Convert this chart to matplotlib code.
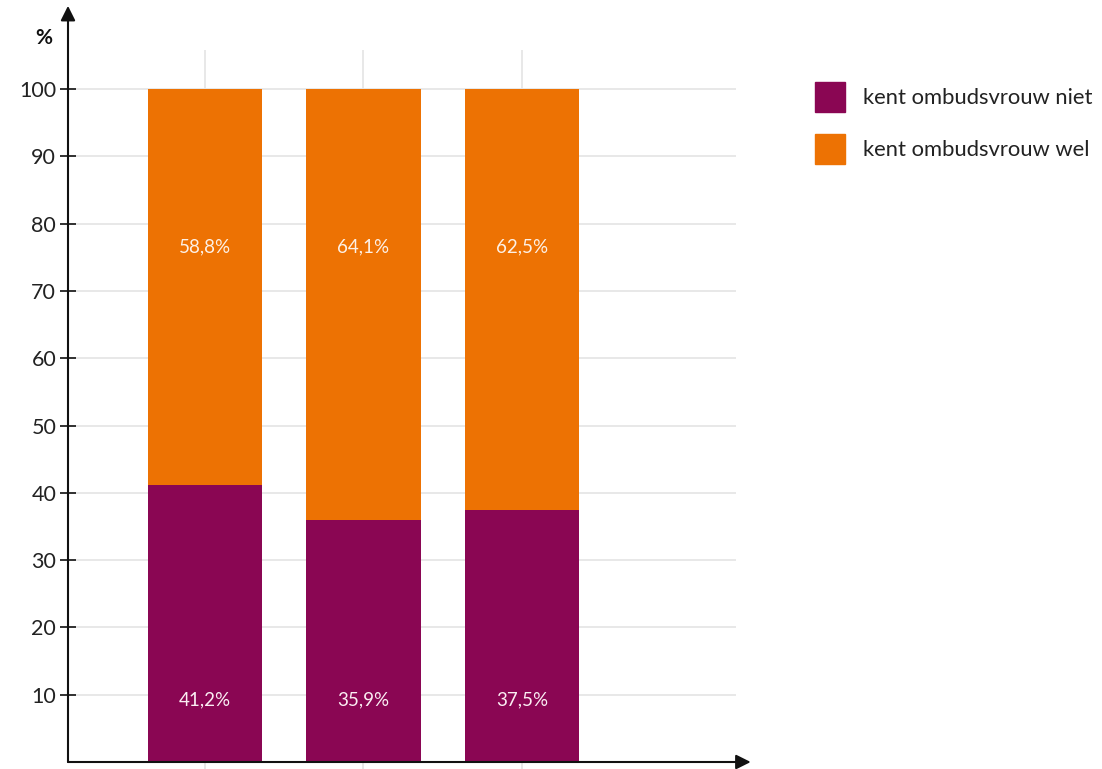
import matplotlib
matplotlib.use("Agg")
import matplotlib.pyplot as plt
from matplotlib.patches import Patch
import numpy as np

plt.rcParams['font.family'] = ['Lato', 'DejaVu Sans']

categories = ["A", "B", "C"]
niet = [41.2, 35.9, 37.5]
wel = [58.8, 64.1, 62.5]
niet_labels = ["41,2%", "35,9%", "37,5%"]
wel_labels = ["58,8%", "64,1%", "62,5%"]
yticks = [10, 20, 30, 40, 50, 60, 70, 80, 90, 100]
series_names = ["kent ombudsvrouw niet", "kent ombudsvrouw wel"]

c_niet = '#8a0653'
c_wel = '#ed7203'

fig = plt.figure(figsize=(11.02, 7.69), dpi=100)
ax = fig.add_axes([68/1102, 7/769, (736-68)/1102, (762-50)/769])

x = np.arange(len(categories))
ax.bar(x, niet, width=0.72, color=c_niet, zorder=3)
ax.bar(x, wel, bottom=niet, width=0.72, color=c_wel, zorder=3)

for xi, t in zip(x, niet_labels):
    ax.text(xi, 9.2, t, ha='center', va='center', color='#fbeef3', fontsize=13.5, zorder=5)
for xi, t in zip(x, wel_labels):
    ax.text(xi, 76.5, t, ha='center', va='center', color='#fdf0e6', fontsize=13.5, zorder=5)

ax.set_xlim(-0.864, 3.35)
ax.set_ylim(0, 105.8)
ax.set_yticks(yticks)
ax.set_yticklabels([str(v) for v in yticks], fontsize=15.5, color='#222222')
ax.set_xticks(x)
ax.set_xticklabels([])
ax.tick_params(axis='y', direction='inout', length=11, width=1.3, color='#222222', pad=3)
ax.tick_params(axis='x', direction='out', length=5, width=1.2, color='#e3e3e3')
ax.grid(True, color='#e6e6e6', linewidth=1.3, zorder=0)
ax.set_axisbelow(True)
for s in ax.spines.values():
    s.set_visible(False)

ax.annotate('', xy=(0, 1.062), xytext=(0, 0), xycoords='axes fraction',
            arrowprops=dict(arrowstyle='-|>', mutation_scale=22, lw=1.5, color='#111111', shrinkA=0, shrinkB=0),
            annotation_clip=False)
ax.annotate('', xy=(1.022, 0), xytext=(0, 0), xycoords='axes fraction',
            arrowprops=dict(arrowstyle='-|>', mutation_scale=22, lw=1.5, color='#111111', shrinkA=0, shrinkB=0),
            annotation_clip=False)

ax.text(-0.037, 1.017, '%', transform=ax.transAxes, ha='center', va='center',
        fontsize=15, fontweight='bold', color='#111111')

handles = [Patch(color=c_niet), Patch(color=c_wel)]
fig.legend(handles, series_names, loc='upper left', bbox_to_anchor=(795/1102, 1 - 62/769),
           frameon=False, fontsize=15.8, handlelength=1.4, handleheight=1.75,
           labelspacing=1.0, handletextpad=0.8, labelcolor='#222222')

fig.savefig('out.png', dpi=100)
